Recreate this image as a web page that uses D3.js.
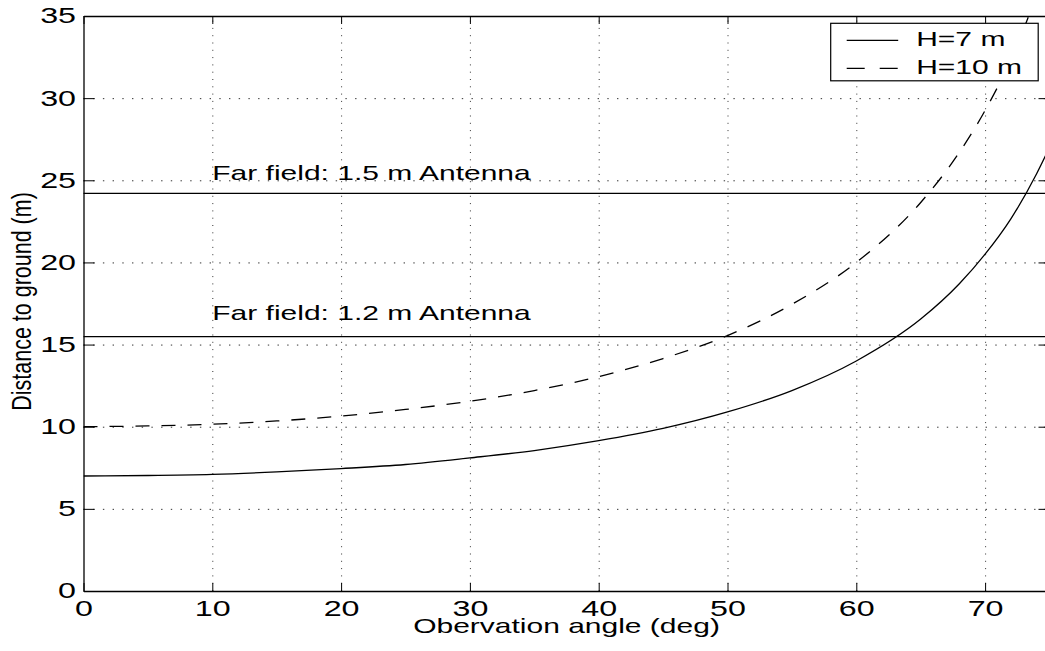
<!DOCTYPE html>
<meta charset="utf-8">
<script src="https://d3js.org/d3.v7.min.js"></script>
<style>
  body { margin: 0; background: #fff; }
  text { font-family: "Liberation Sans", Arial, Helvetica, sans-serif; fill: #000; }
</style>
<svg width="1045" height="651"></svg>

<script>

var angles = [0, 5, 10, 15, 20, 25, 30, 35, 40, 45, 50, 55, 60, 65, 68, 70, 72, 74, 75];
var h7  = [7.0, 7.03, 7.1, 7.25, 7.45, 7.7, 8.1, 8.55, 9.15, 9.9, 10.9, 12.2, 14.0, 16.55, 18.7, 20.5, 22.65, 25.4, 27.0];
var h10 = [10.0, 10.05, 10.15, 10.35, 10.65, 11.05, 11.55, 12.2, 13.05, 14.15, 15.55, 17.45, 20.0, 23.65, 26.7, 29.25, 32.35, 36.3, 38.6];

var seriesNames = ["H=7 m", "H=10 m"];

// far field limits
var farField = [24.2, 15.48];
var farLabels = ["Far field: 1.5 m Antenna", "Far field: 1.2 m Antenna"];
var farLabelY = [25, 16.5];

var xTicks = [0, 10, 20, 30, 40, 50, 60, 70];
var yTicks = [0, 5, 10, 15, 20, 25, 30, 35];

var margin = {top: 16, left: 83.5},
    width = 966,
    height = 575;

var stretch = "scale(1.5,1)";   // the figure is widened horizontally

var svg = d3.select("svg")
  .append("g")
    .attr("transform", "translate(" + margin.left + "," + margin.top + ")");

var x = d3.scaleLinear().domain([0, 75]).range([0, width]);
var y = d3.scaleLinear().domain([0, 35]).range([height, 0]);

svg.append("clipPath").attr("id", "plot")
  .append("rect").attr("width", width).attr("height", height);

// grid
svg.append("g")
    .attr("transform", "translate(0," + height + ")")
    .call(d3.axisBottom(x).tickValues(xTicks.slice(1)).tickSize(-height).tickFormat(""))
    .call(g => g.select(".domain").remove())
    .selectAll("line")
      .attr("stroke", "#333")
      .attr("stroke-dasharray", "1,6.3");

svg.append("g")
    .call(d3.axisLeft(y).tickValues(yTicks.slice(1, -1)).tickSize(-width).tickFormat(""))
    .call(g => g.select(".domain").remove())
    .selectAll("line")
      .attr("stroke", "#333")
      .attr("stroke-dasharray", "1.4,8.3");

// far field lines
svg.append("g").selectAll("line")
  .data(farField)
  .enter().append("line")
    .attr("x1", 0).attr("x2", width)
    .attr("y1", d => y(d)).attr("y2", d => y(d))
    .attr("stroke", "#000").attr("stroke-width", 1.2);

svg.append("g").selectAll("text")
  .data(farLabels)
  .enter().append("text")
    .attr("transform", (d, i) => "translate(" + x(10) + "," + y(farLabelY[i]) + ") " + stretch)
    .attr("font-size", 20)
    .text(d => d);

// curves
var line = d3.line()
  .x(d => x(d[0]))
  .y(d => y(d[1]))
  .curve(d3.curveMonotoneX);

var curves = svg.append("g").attr("clip-path", "url(#plot)");

curves.append("path")
  .datum(angles.map((a, i) => [a, h7[i]]))
  .attr("fill", "none").attr("stroke", "#000").attr("stroke-width", 1.3)
  .attr("d", line);

curves.append("path")
  .datum(angles.map((a, i) => [a, h10[i]]))
  .attr("fill", "none").attr("stroke", "#000").attr("stroke-width", 1.3)
  .attr("stroke-dasharray", "14,12")
  .attr("d", line);

// axes with inward ticks
var fontAxis = g => g.selectAll("text").attr("font-size", 21.5).attr("fill", "#000");

svg.append("g")
    .attr("transform", "translate(0," + height + ")")
    .call(d3.axisBottom(x).tickValues(xTicks).tickSize(-8).tickSizeOuter(0).tickPadding(10))
    .call(fontAxis)
    .call(g => g.selectAll("text").attr("transform", stretch));

svg.append("g")
    .call(d3.axisTop(x).tickValues(xTicks).tickSize(-8).tickSizeOuter(0).tickFormat(""));

svg.append("g")
    .call(d3.axisLeft(y).tickValues(yTicks).tickSize(-11).tickSizeOuter(0).tickPadding(5))
    .call(fontAxis)
    .call(g => g.selectAll("text").attr("transform", stretch));

svg.append("g")
    .attr("transform", "translate(" + width + ",0)")
    .call(d3.axisRight(y).tickValues(yTicks).tickSize(-11).tickSizeOuter(0).tickFormat(""));

svg.selectAll(".domain").attr("stroke", "#000").attr("stroke-width", 1.3);

// axis labels
svg.append("text")
    .attr("transform", "translate(" + (width / 2) + "," + (height + 42) + ") " + stretch)
    .attr("text-anchor", "middle")
    .attr("font-size", 20)
    .text("Obervation angle (deg)");

svg.append("text")
    .attr("transform", "translate(" + (-margin.left + 31) + "," + (height / 2 - 2) + ") scale(1.3,1) rotate(-90)")
    .attr("text-anchor", "middle")
    .attr("font-size", 21.5)
    .text("Distance to ground (m)");

// legend
var legend = svg.append("g").attr("transform", "translate(" + (830.7 - margin.left) + "," + (23.3 - margin.top) + ")");

legend.append("rect")
    .attr("width", 207.5).attr("height", 57.5)
    .attr("fill", "#fff").attr("stroke", "#000").attr("stroke-width", 1.2);

var item = legend.selectAll(".item")
  .data(seriesNames)
  .enter().append("g")
    .attr("transform", (d, i) => "translate(0," + (17 + i * 28) + ")");

item.append("line")
    .attr("x1", 16).attr("x2", 67.5)
    .attr("stroke", "#000").attr("stroke-width", 1.2)
    .attr("stroke-dasharray", (d, i) => i ? "18,15" : null);

item.append("text")
    .attr("transform", "translate(85.5,6) " + stretch)
    .attr("font-size", 20)
    .text(d => d);

</script>
